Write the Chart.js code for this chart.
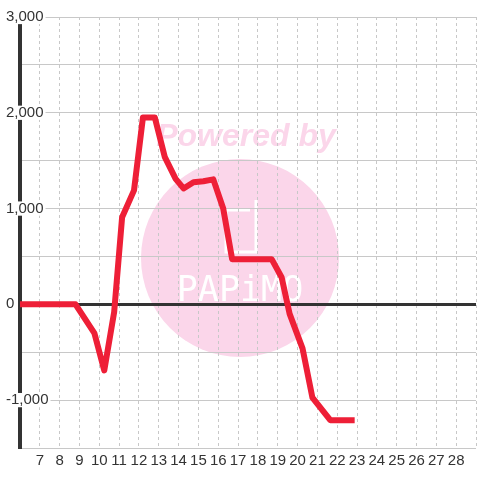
<!DOCTYPE html>
<html>
<head>
<meta charset="utf-8">
<script src="https://cdn.jsdelivr.net/npm/chart.js@4.4.1/dist/chart.umd.min.js"></script>
<style>
  html, body { margin: 0; padding: 0; background: #fff; }
  #wrap { width: 480px; height: 480px; }
</style>
</head>
<body>
<div id="wrap"><canvas id="chart"></canvas></div>
<script>
  // hour of day -> balance
  const hours = [5.75, 8.8, 9.75, 10.25, 10.75, 11.15, 11.75, 12.2, 12.8, 13.3, 13.85, 14.25,
    14.75, 15.25, 15.75, 16.25, 16.7, 18.7, 19.2, 19.6, 20.25, 20.75, 21.65, 22.88];
  const amounts = [0, 0, -300, -690, -80, 910, 1190, 1950, 1950, 1540, 1310, 1210,
    1275, 1285, 1305, 1000, 470, 470, 280, -100, -460, -975, -1210, -1210];

  const hourLabels = [7, 8, 9, 10, 11, 12, 13, 14, 15, 16, 17, 18, 19, 20, 21, 22, 23, 24, 25, 26, 27, 28];
  const amountLabels = [-1000, 0, 1000, 2000, 3000];

  const tickFont = { family: '"Liberation Sans", Arial, sans-serif', size: 15 };

  // pink "Powered by PAPiMO" stamp behind the grid
  const watermark = {
    id: "watermark",
    beforeDraw(chart) {
      const { ctx, chartArea } = chart;
      const cx = chartArea.left + 220;
      const cy = chartArea.top + 241;
      ctx.save();
      ctx.fillStyle = "#fbd6ea";
      ctx.beginPath();
      ctx.arc(cx, cy, 99, 0, Math.PI * 2);
      ctx.fill();

      ctx.font = 'italic bold 32px "Liberation Sans", Arial, sans-serif';
      ctx.textAlign = "center";
      ctx.textBaseline = "alphabetic";
      ctx.fillText("Powered by", cx + 6, cy - 112);

      ctx.strokeStyle = "#fff";
      ctx.lineWidth = 3;
      ctx.beginPath();
      ctx.moveTo(cx - 14, cy - 48);
      ctx.lineTo(cx - 14, cy - 6);
      ctx.lineTo(cx + 16, cy - 6);
      ctx.lineTo(cx + 16, cy - 58);
      ctx.moveTo(cx - 14, cy - 48);
      ctx.lineTo(cx + 10, cy - 48);
      ctx.stroke();

      ctx.fillStyle = "#fff";
      ctx.font = '35px "DejaVu Sans Mono", monospace';
      ctx.fillText("PAPiMO", cx, cy + 43);
      ctx.restore();
    },
  };

  const canvas = document.getElementById("chart");
  new Chart(canvas, {
    type: "line",
    data: {
      datasets: [{
        data: hours.map((h, i) => ({ x: h, y: amounts[i] })),
        borderColor: "#ee1f37",
        borderWidth: 6,
        borderJoinStyle: "round",
        pointRadius: 0,
        tension: 0,
        fill: false,
      }],
    },
    options: {
      responsive: true,
      maintainAspectRatio: false,
      animation: false,
      layout: { padding: { top: 17, left: 6, right: 0, bottom: 0 } },
      plugins: {
        legend: { display: false },
        tooltip: { enabled: false },
      },
      scales: {
        x: {
          type: "linear",
          min: 6,
          max: 29,
          afterFit(scale) { scale.height = 32; },
          border: { display: false, dash: [3, 3] },
          grid: { color: "#c8c8c8", lineWidth: 1, drawTicks: false },
          ticks: {
            stepSize: 1,
            autoSkip: false,
            maxRotation: 0,
            padding: 4,
            color: "#333",
            font: tickFont,
            callback: (v) => (hourLabels.includes(v) ? String(v) : ""),
          },
        },
        y: {
          min: -1500,
          max: 3000,
          afterFit(scale) { scale.width = 14; },
          border: { display: true, color: "#333", width: 4 },
          grid: {
            drawTicks: false,
            color: (c) => (c.tick && c.tick.value === 0 ? "#333" : "#c8c8c8"),
            lineWidth: (c) => (c.tick && c.tick.value === 0 ? 3 : 1),
          },
          ticks: {
            stepSize: 500,
            mirror: true,
            padding: -14,
            color: "#333",
            font: { ...tickFont, lineHeight: 0.95 },
            showLabelBackdrop: true,
            backdropColor: "#fff",
            backdropPadding: { left: 2, right: 2, top: 0, bottom: 0 },
            callback: (v) => (amountLabels.includes(v) ? v.toLocaleString("en-US") : ""),
          },
        },
      },
    },
    plugins: [watermark],
  });
</script>
</body>
</html>
